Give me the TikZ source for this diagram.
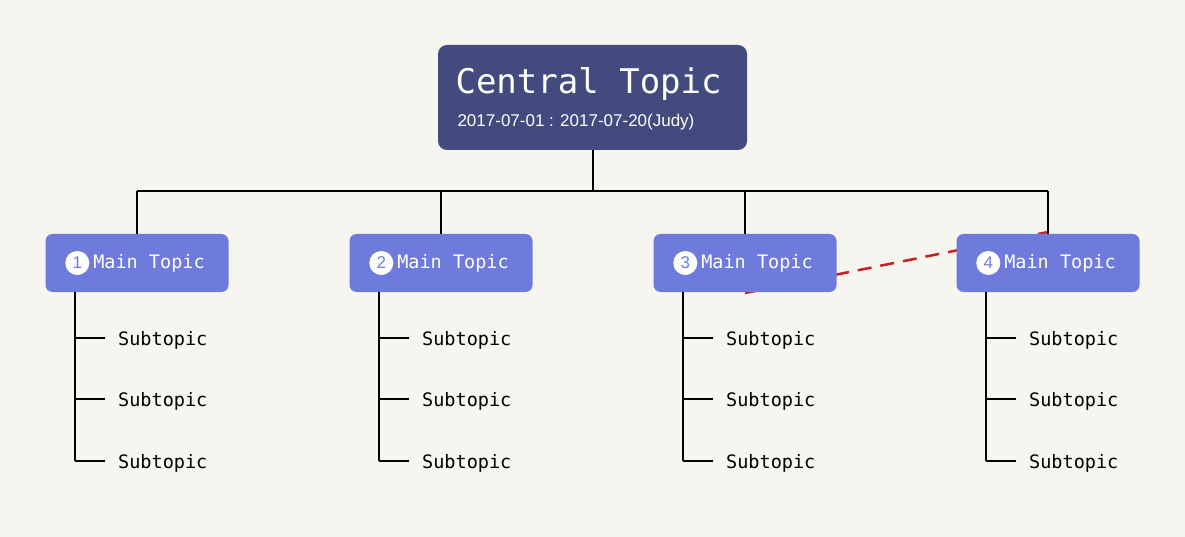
\documentclass[tikz,border=0pt]{standalone}
\usepackage{fontspec}
\usetikzlibrary{calc}
\setmainfont{Liberation Sans}
\newfontfamily\monofont{DejaVu Sans Mono}
\definecolor{bgcol}{HTML}{F6F5EF}
\definecolor{centralcol}{HTML}{424A7E}
\definecolor{maincol}{HTML}{6F7BDC}
\definecolor{dashcol}{HTML}{C82020}
\tikzset{
  central/.style={fill=centralcol, rounded corners=9pt, minimum width=309pt, minimum height=105pt, text=white, align=left},
  maintopic/.style={fill=maincol, rounded corners=7pt, minimum width=183pt, minimum height=58pt, text=white, font=\monofont\fontsize{18.5}{20}\selectfont},
  numdot/.style={circle, fill=white, text=maincol, inner sep=0pt, minimum size=24pt, font=\fontsize{17}{17}\selectfont},
  subtopic/.style={anchor=west, inner sep=0pt, font=\monofont\fontsize{18.5}{20}\selectfont},
  link/.style={black, line width=1.2pt}
}
\begin{document}
\begin{tikzpicture}[x=1pt, y=-1pt]
  \fill[bgcol] (0,0) rectangle (1185,537);
  \useasboundingbox (0,0) rectangle (1185,537);
  % relation line behind the topics
  \coordinate (rs) at (745,293);
  \coordinate (re) at (1048,232);
  \draw[dashcol, line width=2.5pt, dash pattern=on 14pt off 9pt] (rs) -- (re);
  \node[central] (ct) at (592.5,97.5) {};
  \node[anchor=west, text=white, font=\monofont\fontsize{34}{36}\selectfont] (ctname) at (452,84) {Central Topic};
  \node[anchor=west, text=white, font=\fontsize{17}{19}\selectfont] (ctdate) at (454,122) {2017-07-01 : 2017-07-20(Judy)};
  \coordinate (hub) at (593,191);
  \draw[link] (hub |- ct.south) -- (hub);
  \draw[link] (137,191) -- (1048,191);
  \foreach \i/\x in {1/137,2/441,3/745,4/1048}{
    \draw[link] (\x,191) -- (\x,234);
    \node[maintopic] (mt\i) at (\x,263) {\hspace{24pt}Main Topic};
    \node[numdot] (num\i) at ($(mt\i.west)+(32,0)$) {\i};
    \coordinate (sp\i) at (\x-62,292);
    \coordinate (se\i) at (\x-62,461);
    \draw[link] (sp\i) -- (se\i);
    \foreach \j/\y in {1/338,2/399,3/461}{
      \coordinate (tk\i\j) at (\x-62,\y);
      \node[subtopic] (st\i\j) at (\x-19,\y+2) {Subtopic};
      \draw[link] (tk\i\j) -- ++(30,0);
    }
  }
\end{tikzpicture}
\end{document}
